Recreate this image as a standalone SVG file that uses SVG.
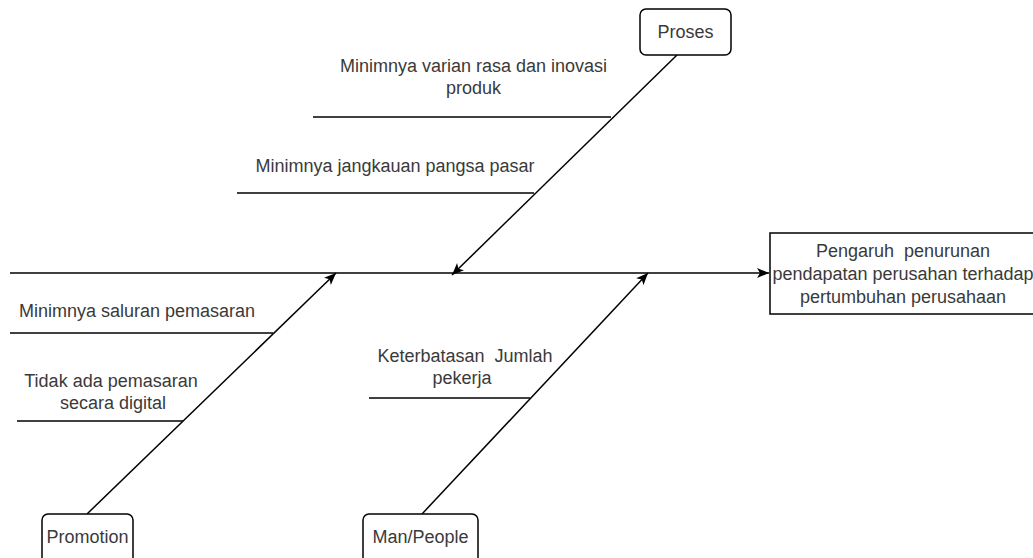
<svg xmlns="http://www.w3.org/2000/svg" width="1033" height="558" viewBox="0 0 1033 558">
<defs>
<style>
.box{fill:#fff;stroke:#000;stroke-width:1.5}
.ln{fill:none;stroke:#000;stroke-width:1.5}
.t{font-family:"Liberation Sans",Arial,sans-serif;font-size:18px;fill:#3a3a3a;text-anchor:middle;white-space:pre}
</style>
<marker id="arr" markerUnits="userSpaceOnUse" markerWidth="14" markerHeight="12" viewBox="0 0 14 12" refX="12" refY="6" orient="auto">
<path d="M0,1 L12,6 L0,11 L3,6 Z" fill="#000"/>
</marker>
</defs>
<rect width="1033" height="558" fill="#fff"/>
<g id="connectors">
<line class="ln" x1="10" y1="273" x2="769" y2="273" marker-end="url(#arr)"/>
<line class="ln" x1="677" y1="55" x2="452" y2="275" marker-end="url(#arr)"/>
<line class="ln" x1="87" y1="514" x2="336" y2="273" marker-end="url(#arr)"/>
<line class="ln" x1="422" y1="514" x2="648" y2="273" marker-end="url(#arr)"/>
<line class="ln" x1="313" y1="117" x2="611" y2="117"/>
<line class="ln" x1="237" y1="193" x2="534" y2="193"/>
<line class="ln" x1="10" y1="333" x2="273" y2="333"/>
<line class="ln" x1="17" y1="421" x2="183" y2="421"/>
<line class="ln" x1="369" y1="398" x2="530" y2="398"/>
</g>
<g id="effect">
<rect class="box" x="770" y="233" width="268" height="81"/>
<text class="t" x="903" y="257" xml:space="preserve">Pengaruh  penurunan</text>
<text class="t" x="903" y="280">pendapatan perusahan terhadap</text>
<text class="t" x="903" y="303">pertumbuhan perusahaan</text>
</g>
<g id="proses">
<rect class="box" x="640" y="9" width="91" height="46" rx="6"/>
<text class="t" x="685.5" y="38">Proses</text>
</g>
<g id="promotion">
<rect class="box" x="42" y="514" width="91" height="50" rx="6"/>
<text class="t" x="87.5" y="543">Promotion</text>
</g>
<g id="man-people">
<rect class="box" x="363" y="514" width="115" height="50" rx="6"/>
<text class="t" x="420.5" y="543">Man/People</text>
</g>
<g id="cause-varian">
<text class="t" x="473.5" y="72">Minimnya varian rasa dan inovasi</text>
<text class="t" x="473.5" y="94">produk</text>
</g>
<g id="cause-jangkauan">
<text class="t" x="395" y="172">Minimnya jangkauan pangsa pasar</text>
</g>
<g id="cause-saluran">
<text class="t" x="137" y="317">Minimnya saluran pemasaran</text>
</g>
<g id="cause-digital">
<text class="t" x="111" y="387">Tidak ada pemasaran</text>
<text class="t" x="113" y="409">secara digital</text>
</g>
<g id="cause-pekerja">
<text class="t" x="465" y="362" xml:space="preserve">Keterbatasan  Jumlah</text>
<text class="t" x="462" y="384">pekerja</text>
</g>
</svg>
